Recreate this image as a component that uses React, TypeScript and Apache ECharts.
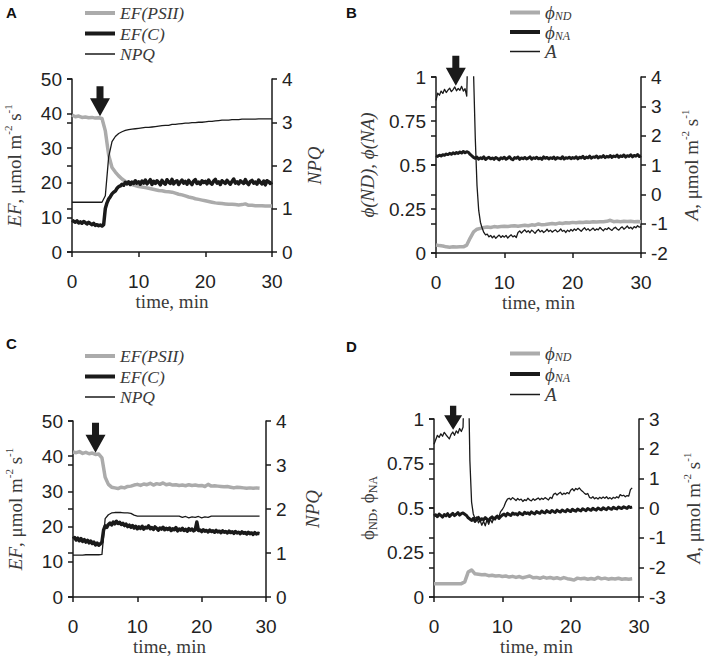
import React, { useEffect, useRef } from 'react';
import * as echarts from 'echarts';

// ---------- sampling grids (minutes) ----------
function stepTimes(n: number, dt: number): number[] {
  return Array.from({ length: n }, (_, i) => +(i * dt).toFixed(2));
}
const T_Q30 = stepTimes(121, 0.25); // 0..30 every 0.25 min
const T_Q29 = stepTimes(117, 0.25); // 0..29 every 0.25 min
const T_H30 = stepTimes(61, 0.5);   // 0..30 every 0.5 min
const T_H29 = stepTimes(59, 0.5);   // 0..29 every 0.5 min

// ---------- Panel A ----------
const A_EF_PSII = [
  39.6, 39.1, 39.3, 38.9, 39.0, 38.8, 38.9, 38.7, 38.8, 38.6,
  35.0, 28.0, 24.4, 23.1, 22.0, 21.1, 20.4, 19.9, 19.5, 19.2,
  18.9, 18.8, 18.6, 18.4, 18.2, 18.0, 17.8, 17.7, 17.5, 17.4,
  17.3, 17.0, 16.7, 16.5, 16.2, 15.9, 15.7, 15.4, 15.2, 15.0,
  14.8, 14.6, 14.4, 14.2, 14.1, 14.0, 13.9, 13.8, 13.8, 13.7,
  13.6, 13.7, 13.9, 13.5, 13.5, 13.4, 13.4, 13.4, 13.3, 13.3,
  13.3,
];
const A_EF_C = [
  9.2, 8.9, 8.6, 9.0, 8.4, 8.7, 8.3, 8.8, 8.5, 8.1, 8.6, 8.2, 7.9, 8.3, 7.7, 7.9, 7.6, 7.8, 7.5, 7.9,
  12.6, 14.2, 15.3, 16.0, 16.8, 17.3, 17.6, 18.4, 18.9, 19.1, 19.6, 19.3, 20.1, 19.7, 20.3, 19.5, 20.2, 19.8, 20.6, 19.9,
  20.3, 19.6, 20.5, 19.9, 20.8, 19.7, 20.2, 20.9, 19.5, 20.4, 19.8, 20.6, 20.1, 19.4, 20.7, 20.0, 19.6, 20.9, 20.2, 19.8,
  21.0, 19.7, 20.3, 20.6, 19.5, 20.2, 20.8, 19.9, 20.4, 19.6, 20.7, 20.0, 19.5, 20.5, 20.9, 19.8, 20.2, 19.6, 20.6, 20.1,
  20.4, 19.7, 20.8, 20.0, 19.6, 20.5, 21.0, 19.9, 20.3, 19.5, 20.6, 20.2, 19.8, 20.7, 20.1, 19.6, 20.4, 21.1, 19.9, 20.3,
  19.7, 20.6, 20.2, 19.8, 20.9, 20.0, 19.5, 20.4, 20.7, 19.9, 20.2, 19.6, 20.8, 20.1, 19.7, 20.5, 19.4, 20.6, 20.3, 19.8,
  20.2,
];
const A_NPQ = [
  1.15, 1.15, 1.15, 1.15, 1.15, 1.15, 1.15, 1.15, 1.15, 1.15,
  1.30, 2.20, 2.55, 2.67, 2.74, 2.78, 2.81, 2.83, 2.84, 2.85,
  2.86, 2.87, 2.88, 2.88, 2.89, 2.90, 2.91, 2.92, 2.93, 2.93,
  2.95, 2.95, 2.96, 2.97, 2.98, 2.98, 2.99, 2.99, 3.00, 3.00,
  3.01, 3.02, 3.02, 3.03, 3.04, 3.05, 3.05, 3.05, 3.06, 3.06,
  3.06, 3.07, 3.07, 3.07, 3.07, 3.07, 3.08, 3.08, 3.08, 3.08,
  3.08,
];
const A_ARROW = [4.2, 39.2];

// ---------- Panel B ----------
const B_PHI_ND = [
  0.045, 0.042, 0.040, 0.035, 0.033, 0.035, 0.034, 0.036, 0.035, 0.045,
  0.085, 0.120, 0.135, 0.140, 0.145, 0.148, 0.145, 0.150, 0.148, 0.150,
  0.152, 0.150, 0.153, 0.155, 0.152, 0.155, 0.158, 0.155, 0.160, 0.158,
  0.165, 0.160, 0.162, 0.165, 0.168, 0.165, 0.170, 0.168, 0.172, 0.170,
  0.174, 0.172, 0.175, 0.173, 0.176, 0.175, 0.178, 0.176, 0.178, 0.177,
  0.180, 0.186, 0.178, 0.180, 0.178, 0.180, 0.179, 0.180, 0.178, 0.179,
  0.178,
];
const B_PHI_NA = [
  0.553, 0.549, 0.556, 0.551, 0.558, 0.555, 0.562, 0.559, 0.566, 0.561, 0.569, 0.564, 0.571, 0.566, 0.574, 0.568, 0.577, 0.570, 0.575, 0.572,
  0.560, 0.552, 0.543, 0.538, 0.545, 0.533, 0.541, 0.536, 0.546, 0.531, 0.539, 0.544, 0.535, 0.540, 0.532, 0.543, 0.537, 0.529, 0.541, 0.536,
  0.544, 0.533, 0.539, 0.547, 0.535, 0.530, 0.542, 0.538, 0.545, 0.532, 0.540, 0.536, 0.543, 0.534, 0.539, 0.546, 0.533, 0.541, 0.537, 0.544,
  0.535, 0.540, 0.532, 0.546, 0.538, 0.543, 0.534, 0.541, 0.537, 0.545, 0.533, 0.542, 0.539, 0.536, 0.547, 0.534, 0.541, 0.538, 0.544, 0.536,
  0.542, 0.538, 0.547, 0.535, 0.544, 0.540, 0.549, 0.537, 0.545, 0.541, 0.550, 0.539, 0.546, 0.543, 0.551, 0.540, 0.548, 0.544, 0.553, 0.542,
  0.549, 0.545, 0.554, 0.543, 0.551, 0.547, 0.556, 0.544, 0.552, 0.548, 0.557, 0.545, 0.553, 0.549, 0.558, 0.546, 0.554, 0.550, 0.559, 0.548,
  0.553,
];
const B_A = [
  3.20, 3.45, 3.38, 3.52, 3.44, 3.58, 3.47, 3.55, 3.62, 3.50, 3.57, 3.66, 3.53, 3.61, 3.55, 3.68, 3.52, 3.60, 3.35, 6.00,
  6.00, 6.00, 4.10, 1.90, 0.30, -0.55, -0.95, -1.15, -1.30, -1.38, -1.36, -1.45, -1.40, -1.48, -1.42, -1.50, -1.44, -1.39, -1.47, -1.41,
  -1.46, -1.40, -1.49, -1.43, -1.38, -1.45, -1.41, -1.47, -1.30, -1.25, -1.32, -1.26, -1.21, -1.29, -1.24, -1.31, -1.22, -1.27, -1.33, -1.25,
  -1.20, -1.28, -1.23, -1.30, -1.26, -1.19, -1.27, -1.22, -1.29, -1.24, -1.21, -1.28, -1.25, -1.18, -1.26, -1.23, -1.30, -1.22, -1.27, -1.20,
  -1.25, -1.18, -1.23, -1.16, -1.21, -1.26, -1.19, -1.14, -1.22, -1.17, -1.24, -1.20, -1.15, -1.23, -1.18, -1.21, -1.13, -1.19, -1.24, -1.17,
  -1.20, -1.14, -1.19, -1.23, -1.16, -1.12, -1.18, -1.22, -1.15, -1.11, -1.19, -1.14, -1.08, -1.16, -1.12, -1.18, -1.10, -1.14, -1.07, -1.12,
  -1.10,
];
const B_ARROW = [2.9, 0.95];

// ---------- Panel C ----------
const C_EF_PSII = [
  41.2, 41.0, 41.3, 40.8, 41.1, 40.7, 40.9, 40.5, 40.6, 39.5,
  34.0, 32.0, 31.2, 31.0, 30.8, 31.2, 31.0, 31.4, 31.5, 31.8,
  32.0, 31.7, 32.1, 31.9, 32.3, 31.8, 32.2, 32.0, 32.4, 31.9,
  32.1, 31.8, 31.9, 31.7, 31.8, 31.6, 31.9, 31.7, 31.8, 31.6,
  31.7, 31.4, 32.0, 31.5, 31.6, 31.5, 31.4, 31.3, 31.4, 31.2,
  31.0, 31.2, 31.1, 31.0, 30.9, 31.0, 30.9, 31.0, 30.9,
];
const C_EF_C = [
  16.5, 16.9, 16.2, 16.7, 16.0, 16.6, 15.8, 16.3, 15.6, 16.1, 15.4, 15.9, 15.2, 15.6, 14.8, 15.3, 14.7, 15.1, 15.6, 19.0,
  20.2, 19.8, 20.6, 21.0, 20.5, 21.3, 20.8, 21.5, 20.9, 21.2, 20.6, 20.9, 20.3, 20.7, 20.0, 20.4, 19.8, 20.3, 19.6, 20.1,
  19.4, 19.9, 19.5, 20.1, 19.3, 19.8, 19.6, 20.2, 19.4, 19.7, 19.2, 19.9, 19.5, 19.0, 19.6, 19.3, 19.8, 19.1, 19.5, 19.2,
  19.6, 18.9, 19.4, 19.1, 19.7, 18.8, 19.3, 19.0, 19.5, 18.9, 19.2, 18.7, 19.4, 19.0, 19.3, 18.8, 19.1, 21.3, 18.9, 19.0,
  18.6, 19.1, 18.7, 18.9, 18.5, 19.0, 18.6, 18.8, 18.4, 18.9, 18.5, 18.7, 18.3, 18.8, 18.4, 18.6, 18.2, 18.7, 18.3, 18.5,
  18.1, 18.6, 18.2, 18.4, 18.0, 18.5, 18.1, 18.3, 17.9, 18.4, 18.0, 18.2, 17.8, 18.3, 17.9, 18.1, 18.0,
];
const C_NPQ = [
  0.95, 0.95, 0.95, 0.95, 0.96, 0.96, 0.96, 0.96, 0.96, 0.97,
  1.78, 1.87, 1.91, 1.92, 1.92, 1.92, 1.91, 1.91, 1.90, 1.86,
  1.84, 1.84, 1.84, 1.84, 1.84, 1.84, 1.84, 1.84, 1.84, 1.84,
  1.84, 1.84, 1.84, 1.84, 1.81, 1.83, 1.80, 1.82, 1.81, 1.83,
  1.80, 1.82, 1.81, 1.84, 1.84, 1.84, 1.84, 1.84, 1.84, 1.84,
  1.84, 1.84, 1.84, 1.84, 1.84, 1.84, 1.84, 1.84, 1.84,
];
const C_ARROW = [3.5, 41.0];

// ---------- Panel D ----------
const D_PHI_ND = [
  0.075, 0.075, 0.075, 0.075, 0.075, 0.075, 0.075, 0.075, 0.075, 0.085,
  0.140, 0.152, 0.130, 0.128, 0.125, 0.126, 0.120, 0.122, 0.118, 0.120,
  0.115, 0.118, 0.112, 0.116, 0.110, 0.115, 0.108, 0.113, 0.118, 0.108,
  0.110, 0.105, 0.112, 0.106, 0.110, 0.104, 0.108, 0.102, 0.109, 0.103,
  0.100, 0.095, 0.106, 0.102, 0.105, 0.100, 0.104, 0.100, 0.110, 0.102,
  0.106, 0.100, 0.104, 0.101, 0.105, 0.100, 0.103, 0.100, 0.102,
];
const D_PHI_NA = [
  0.455, 0.462, 0.451, 0.466, 0.458, 0.449, 0.463, 0.456, 0.468, 0.452, 0.461, 0.470, 0.457, 0.465, 0.474, 0.460, 0.468, 0.472, 0.465, 0.458,
  0.445, 0.438, 0.430, 0.442, 0.425, 0.436, 0.447, 0.431, 0.440, 0.434, 0.446, 0.437, 0.429, 0.443, 0.450, 0.438, 0.446, 0.455, 0.441, 0.452,
  0.460, 0.466, 0.456, 0.470, 0.463, 0.458, 0.472, 0.465, 0.468, 0.461, 0.474, 0.467, 0.462, 0.476, 0.469, 0.473, 0.465, 0.478, 0.471, 0.467,
  0.480, 0.474, 0.470, 0.483, 0.476, 0.472, 0.485, 0.478, 0.474, 0.486, 0.480, 0.475, 0.488, 0.481, 0.477, 0.489, 0.483, 0.479, 0.491, 0.485,
  0.480, 0.493, 0.486, 0.482, 0.494, 0.488, 0.484, 0.496, 0.490, 0.485, 0.497, 0.491, 0.487, 0.498, 0.492, 0.488, 0.500, 0.494, 0.490, 0.501,
  0.495, 0.491, 0.502, 0.497, 0.493, 0.504, 0.498, 0.495, 0.506, 0.500, 0.497, 0.507, 0.502, 0.498, 0.508, 0.503, 0.505,
];
const D_A = [
  2.15, 2.30, 2.45, 2.38, 2.50, 2.42, 2.55, 2.47, 2.40, 2.33, 2.48, 2.56, 2.45, 2.60, 2.52, 2.68, 2.58, 2.72, 5.00, 5.00,
  5.00, 1.60, 0.20, -0.20, -0.35, -0.30, -0.50, -0.42, -0.58, -0.45, -0.60, -0.40, -0.55, -0.38, -0.50, -0.32, -0.40, -0.25, -0.30, -0.12,
  -0.05, 0.05, 0.20, 0.30, 0.33, 0.28, 0.35, 0.30, 0.25, 0.32, 0.27, 0.30, 0.22, 0.28, 0.25, 0.33, 0.27, 0.24, 0.31, 0.26,
  0.30, 0.34, 0.28, 0.33, 0.29, 0.35, 0.31, 0.27, 0.36, 0.32, 0.46, 0.50, 0.44, 0.49, 0.53, 0.45, 0.50, 0.47, 0.52, 0.48,
  0.60, 0.65, 0.58, 0.66, 0.62, 0.68, 0.61, 0.56, 0.50, 0.46, 0.49, 0.36, 0.33, 0.38, 0.31, 0.35, 0.30, 0.36, 0.32, 0.37,
  0.33, 0.38, 0.31, 0.35, 0.30, 0.36, 0.33, 0.38, 0.34, 0.45, 0.41, 0.43, 0.38, 0.42, 0.40, 0.62, 0.68,
];
const D_ARROW = [2.8, 0.94];

// ---------- labels ----------
const PANEL_LETTERS = ['A', 'B', 'C', 'D'];
const X_NAME = 'time, min';
const EF_NAME = '{i|EF}, μmol m{sup|-2} s{sup|-1}';
const A_NAME = '{i|A}, μmol m{sup|-2} s{sup|-1}';
const LEGEND_TEXT: Record<string, string> = {
  a1: '{i|EF(PSII)}', a2: '{i|EF(C)}', a3: '{i|NPQ}',
  b1: '{i|ϕ}{sub|ND}', b2: '{i|ϕ}{sub|NA}', b3: '{i|A}',
  c1: '{i|EF(PSII)}', c2: '{i|EF(C)}', c3: '{i|NPQ}',
  d1: '{i|ϕ}{sub|ND}', d2: '{i|ϕ}{sub|NA}', d3: '{i|A}',
};

// ---------- style constants ----------
const SANS = '"Liberation Sans", Arial, sans-serif';
const SERIF = '"Liberation Serif", "Times New Roman", serif';
const GRAY = '#ababab';
const BLACK = '#1a1a1a';
const AXIS = '#1a1a1a';
const TICKC = '#222';
const NAMEC = '#3a3a3a';
const ARROW_PATH = 'path://M6.5,0 H13.5 V12 H20 L10,30 L0,12 H6.5 Z';

const zip = (t: number[], v: number[]) => v.map((y, i) => [t[i], y]);

const nameRich = {
  i: { fontFamily: SERIF, fontStyle: 'italic', fontSize: 19, lineHeight: 24, color: NAMEC },
  sup: { fontFamily: SERIF, fontSize: 11, lineHeight: 12, verticalAlign: 'top', color: NAMEC },
  sub: { fontFamily: SERIF, fontSize: 12, lineHeight: 12, verticalAlign: 'bottom', color: NAMEC },
};

function legendRich(fs: number) {
  return {
    i: { fontFamily: SERIF, fontStyle: 'italic', fontSize: fs, color: NAMEC },
    sub: { fontFamily: SERIF, fontStyle: 'italic', fontSize: 12, lineHeight: 10, verticalAlign: 'bottom', color: NAMEC },
  };
}

const GRIDS = [
  { left: 72, top: 79, width: 200, height: 173 },
  { left: 436, top: 77, width: 205, height: 176 },
  { left: 73, top: 421, width: 193, height: 176 },
  { left: 434, top: 419, width: 205, height: 178 },
];

const LEGEND_POS = [
  { left: 83, top: 4, itemGap: 2.5, fontSize: 17.5 },
  { left: 508, top: 3, itemGap: 0.5, fontSize: 19 },
  { left: 83, top: 347, itemGap: 2.5, fontSize: 17.5 },
  { left: 508, top: 344, itemGap: 1.5, fontSize: 19 },
];

const LETTER_POS = [
  { left: 6, top: 5 },
  { left: 346, top: 5 },
  { left: 6, top: 336 },
  { left: 346, top: 339 },
];

function xAxis(p: number) {
  return {
    gridIndex: p, type: 'value', min: 0, max: 30, interval: 10,
    name: X_NAME, nameLocation: 'middle', nameGap: 40,
    nameTextStyle: { fontFamily: SERIF, fontSize: 19, color: NAMEC },
    axisLine: { show: true, onZero: false, lineStyle: { color: AXIS, width: 1.5 } },
    axisTick: { show: true, length: 5, lineStyle: { color: AXIS, width: 1.5 } },
    axisLabel: { fontFamily: SANS, fontSize: 19, color: TICKC, margin: 20 },
    splitLine: { show: false },
  };
}

function yAxis(p: number, pos: string, min: number, max: number, interval: number, name: string, nameGap: number) {
  return {
    gridIndex: p, type: 'value', position: pos, min, max, interval,
    name, nameLocation: 'middle', nameGap, nameRotate: 90,
    nameTextStyle: { fontFamily: SERIF, fontSize: 19, lineHeight: 24, color: NAMEC, rich: nameRich },
    axisLine: { show: true, onZero: false, lineStyle: { color: AXIS, width: 1.5 } },
    axisTick: { show: true, length: 5, lineStyle: { color: AXIS, width: 1.5 } },
    axisLabel: { fontFamily: SANS, fontSize: 19, color: TICKC, margin: 10 },
    splitLine: { show: false },
  };
}

function crossTicks(p: number, min: number, max: number, interval: number) {
  return {
    gridIndex: p, type: 'value', position: 'right', min, max, interval,
    axisLine: { show: false }, axisLabel: { show: false }, splitLine: { show: false },
    axisTick: { show: true, inside: true, length: 5, lineStyle: { color: AXIS, width: 1.5 } },
  };
}

function lineSeries(id: string, p: number, yIdx: number, data: number[][], color: string, width: number, arrow?: number[], arrowSize?: number[]) {
  const s: any = {
    name: id, type: 'line', xAxisIndex: p, yAxisIndex: yIdx, data,
    symbol: 'none', showSymbol: false, clip: true,
    lineStyle: { color, width, join: 'round' }, itemStyle: { color },
    silent: true,
  };
  if (arrow) {
    s.markPoint = {
      silent: true, symbol: ARROW_PATH, symbolSize: arrowSize || [20, 30], symbolKeepAspect: false,
      symbolOffset: [0, '-50%'], itemStyle: { color: BLACK }, label: { show: false },
      data: [{ coord: arrow }],
    };
  }
  return s;
}

export default function App() {
  const ref = useRef<HTMLDivElement>(null);
  useEffect(() => {
    if (!ref.current) return;
    const chart = echarts.init(ref.current, undefined, { renderer: 'svg' });
    const option: any = {
      animation: false,
      backgroundColor: '#ffffff',
      grid: GRIDS.map((g) => ({ ...g, containLabel: false })),
      xAxis: [0, 1, 2, 3].map(xAxis),
      yAxis: [
        yAxis(0, 'left', 0, 50, 10, EF_NAME, 46),
        yAxis(0, 'right', 0, 4, 1, '{i|NPQ}', 30),
        crossTicks(0, 0, 4, 1),
        yAxis(1, 'left', 0, 1, 0.25, '{i|ϕ(ND), ϕ(NA)}', 57),
        yAxis(1, 'right', -2, 4, 1, A_NAME, 38),
        crossTicks(1, -2, 4, 1),
        yAxis(2, 'left', 0, 50, 10, EF_NAME, 46),
        yAxis(2, 'right', 0, 4, 1, '{i|NPQ}', 34),
        crossTicks(2, 0, 4, 1),
        yAxis(3, 'left', 0, 1, 0.25, 'ϕ{sub|ND}, ϕ{sub|NA}', 55),
        yAxis(3, 'right', -3, 3, 1, A_NAME, 42),
        crossTicks(3, -3, 3, 1),
      ],
      legend: LEGEND_POS.map((lp, p) => {
        const k = ['a', 'b', 'c', 'd'][p];
        return {
          left: lp.left, top: lp.top, padding: 0, orient: 'vertical', itemWidth: 30, itemHeight: 10,
          itemGap: lp.itemGap, selectedMode: false,
          itemStyle: { color: 'rgba(0,0,0,0)', borderWidth: 0, opacity: 0 },
          data: [
            { name: k + '1', lineStyle: { width: 4, color: GRAY } },
            { name: k + '2', lineStyle: { width: 4, color: BLACK } },
            { name: k + '3', lineStyle: { width: 1.5, color: BLACK } },
          ],
          formatter: (n: string) => LEGEND_TEXT[n],
          textStyle: {
            fontFamily: SERIF, fontStyle: 'italic', fontSize: lp.fontSize, color: NAMEC,
            rich: legendRich(lp.fontSize),
          },
        };
      }),
      graphic: PANEL_LETTERS.map((L, p) => ({
        type: 'text', left: LETTER_POS[p].left, top: LETTER_POS[p].top,
        style: { text: L, fontFamily: SANS, fontWeight: 'bold', fontSize: 15, fill: '#111' },
      })),
      series: [
        lineSeries('a1', 0, 0, zip(T_H30, A_EF_PSII), GRAY, 3.5, A_ARROW),
        lineSeries('a2', 0, 0, zip(T_Q30, A_EF_C), BLACK, 3.5),
        lineSeries('a3', 0, 1, zip(T_H30, A_NPQ), BLACK, 1.3),
        lineSeries('b1', 1, 3, zip(T_H30, B_PHI_ND), GRAY, 3.5, B_ARROW),
        lineSeries('b2', 1, 3, zip(T_Q30, B_PHI_NA), BLACK, 3),
        lineSeries('b3', 1, 4, zip(T_Q30, B_A), BLACK, 1.3),
        lineSeries('c1', 2, 6, zip(T_H29, C_EF_PSII), GRAY, 3.5, C_ARROW),
        lineSeries('c2', 2, 6, zip(T_Q29, C_EF_C), BLACK, 3.5),
        lineSeries('c3', 2, 7, zip(T_H29, C_NPQ), BLACK, 1.3),
        lineSeries('d1', 3, 9, zip(T_H29, D_PHI_ND), GRAY, 3.5, D_ARROW, [18, 24]),
        lineSeries('d2', 3, 9, zip(T_Q29, D_PHI_NA), BLACK, 3),
        lineSeries('d3', 3, 10, zip(T_Q29, D_A), BLACK, 1.3),
      ],
    };
    chart.setOption(option);
    return () => chart.dispose();
  }, []);
  return (
    <div
      ref={ref}
      style={{ position: 'fixed', left: 0, top: 0, width: 708, height: 658, background: '#fff' }}
    />
  );
}
